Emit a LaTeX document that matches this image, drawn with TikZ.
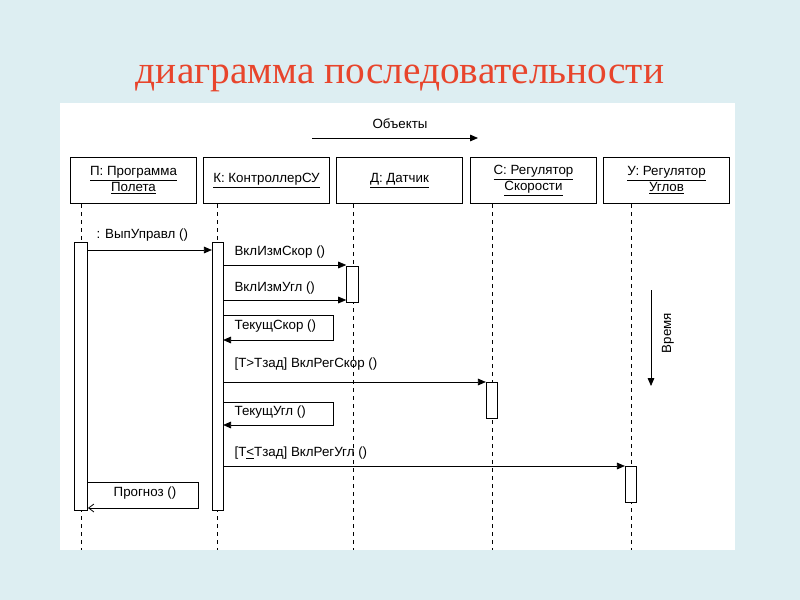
\documentclass[tikz,border=0pt]{standalone}
\usepackage{fontspec}
\setmainfont{Liberation Sans}
\newfontfamily\titlefont{Liberation Serif}
\usetikzlibrary{arrows.meta}
\definecolor{bgc}{HTML}{DDEEF2}
\definecolor{titc}{HTML}{E8452C}
\tikzset{
  obj/.style={draw,thick,minimum width=95pt,minimum height=35pt,align=center,font=\fontsize{10}{12}\selectfont,fill=white},
  act/.style={draw,fill=white,minimum width=8pt,inner sep=0pt},
  life/.style={dashed,thin},
  msg/.style={-{Triangle[length=6pt,width=5pt]},semithick},
  ret/.style={-{Straight Barb[length=4pt,width=6pt]},semithick},
  lbl/.style={font=\fontsize{10}{12}\selectfont,inner sep=1pt}
}
\begin{document}
\begin{tikzpicture}[x=0.75pt,y=-0.75pt]
\useasboundingbox (0,0) rectangle (800,600);
\fill[bgc] (0,0) rectangle (800,600);
\node[text=titc,font=\titlefont\fontsize{29.5}{34}\selectfont] (title) at (400,78) {диаграмма последовательности};
\fill[white] (60,103) rectangle (735,550);
% objects
\node[obj] (p) at (133.5,180.5) {\underline{П: Программа}\\\underline{Полета}};
\node[obj] (k) at (266.5,180.5) {\underline{К: КонтроллерСУ}};
\node[obj] (d) at (399.5,180.5) {\underline{Д: Датчик}};
\node[obj] (c) at (533.5,180.5) {\underline{С: Регулятор}\\\underline{Скорости}};
\node[obj] (u) at (666.5,180.5) {\underline{У: Регулятор}\\\underline{Углов}};
% lifelines
\coordinate (pe) at (81,550); \coordinate (ke) at (217,550); \coordinate (de) at (353,550);
\coordinate (ce) at (492,550); \coordinate (ue) at (631,550);
\draw[life] (81,204) -- (pe); \draw[life] (217,204) -- (ke); \draw[life] (353,204) -- (de);
\draw[life] (492,204) -- (ce); \draw[life] (631,204) -- (ue);
% activations
\node[act,minimum height=201pt,minimum width=10pt] (pa) at (81,376) {};
\node[act,minimum height=201pt,minimum width=8pt] (ka) at (217.5,376) {};
\node[act,minimum height=27pt,minimum width=9pt] (da) at (352.5,284) {};
\node[act,minimum height=27pt,minimum width=8pt] (ca) at (491.5,400) {};
\node[act,minimum height=27pt,minimum width=8pt] (ua) at (630.5,484) {};
% messages
\draw[msg] (pa.east |- 0,250) -- (ka.west |- 0,250);
\node[lbl,anchor=south west] (m1) at (95,243) {: ВыпУправл ()};
\draw[msg] (ka.east |- 0,265) -- (da.west |- 0,265);
\node[lbl,anchor=south west] (m2) at (233,260) {ВклИзмСкор ()};
\draw[msg] (ka.east |- 0,300) -- (da.west |- 0,300);
\node[lbl,anchor=south west] (m3) at (233,296) {ВклИзмУгл ()};
\coordinate (s1) at (333,315); \coordinate (s2) at (333,340);
\draw[msg] (ka.east |- s1) -- (s1) -- (s2) -- (ka.east |- s2);
\node[lbl,anchor=west] (m4) at (233,326) {ТекущСкор ()};
\draw[msg] (ka.east |- 0,382) -- (ca.west |- 0,382);
\node[lbl,anchor=south west] (m5) at (233,372) {[T>Tзад] ВклРегСкор ()};
\coordinate (s3) at (333,402); \coordinate (s4) at (333,425);
\draw[msg] (ka.east |- s3) -- (s3) -- (s4) -- (ka.east |- s4);
\node[lbl,anchor=west] (m6) at (233,412) {ТекущУгл ()};
\draw[msg] (ka.east |- 0,466) -- (ua.west |- 0,466);
\node[lbl,anchor=south west] (m7) at (233,461) {[T\underline{<}Tзад] ВклРегУгл ()};
\coordinate (s5) at (198,482); \coordinate (s6) at (198,508);
\draw[ret] (pa.east |- s5) -- (s5) -- (s6) -- (pa.east |- s6);
\node[lbl] (m8) at (145,493) {Прогноз ()};
% axes
\coordinate (o1) at (312,138); \coordinate (o2) at (478,138);
\draw[msg] (o1) -- (o2);
\node[lbl] (ol) at (400,124) {Объекты};
\coordinate (t1) at (651,290); \coordinate (t2) at (651,386);
\draw[msg] (t1) -- (t2);
\node[lbl,rotate=90] (tl) at (668,333) {Время};
\end{tikzpicture}
\end{document}
